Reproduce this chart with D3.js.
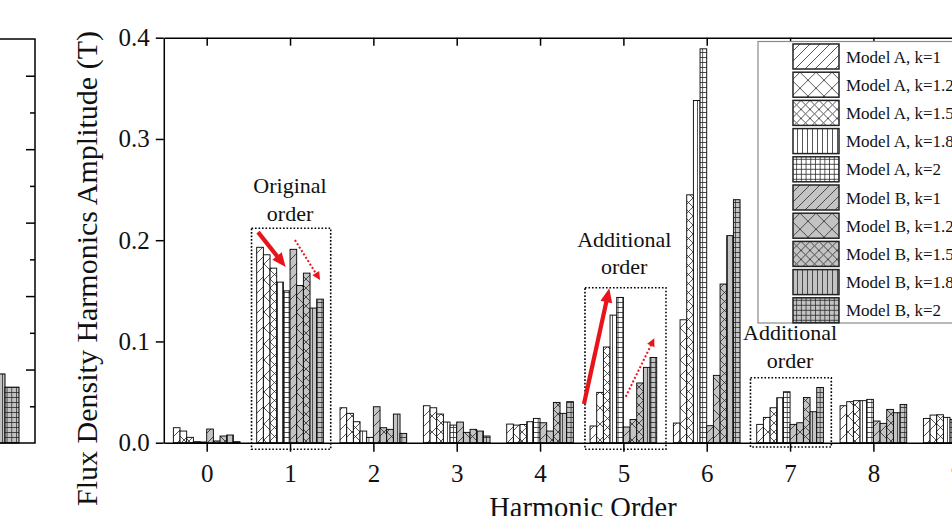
<!DOCTYPE html>
<html><head><meta charset="utf-8">
<script src="https://cdn.jsdelivr.net/npm/d3@7"></script>
<style>
html,body{margin:0;padding:0;background:#fff;overflow:hidden}
svg{display:block}
</style></head><body>
<svg id="chart" width="952" height="516"></svg>
<script>
// ---------- DATA ----------
const harmonics = [0, 1, 2, 3, 4, 5, 6, 7, 8, 9];
const xTickLabels = ["0", "1", "2", "3", "4", "5", "6", "7", "8", "9"];
const yTicks = [0.0, 0.1, 0.2, 0.3, 0.4];
const yTickLabels = ["0.0", "0.1", "0.2", "0.3", "0.4"];

const seriesNames = ["Model A, k=1", "Model A, k=1.2", "Model A, k=1.5", "Model A, k=1.8", "Model A, k=2",
                     "Model B, k=1", "Model B, k=1.2", "Model B, k=1.5", "Model B, k=1.8", "Model B, k=2"];

const modelA_k1   = [0.0148, 0.193,  0.0345, 0.0365, 0.0184, 0.0165, 0.0194, 0.0181, 0.0365, 0.0240];
const modelA_k1_2 = [0.0115, 0.1856, 0.0290, 0.0345, 0.0174, 0.0497, 0.1214, 0.0250, 0.0405, 0.0273];
const modelA_k1_5 = [0.0053, 0.1724, 0.0207, 0.0283, 0.0180, 0.0945, 0.2448, 0.0345, 0.0415, 0.0276];
const modelA_k1_8 = [0.0010, 0.1586, 0.0115, 0.0204, 0.0207, 0.1260, 0.3380, 0.0444, 0.0415, 0.0250];
const modelA_k2   = [0.0007, 0.1500, 0.0053, 0.0174, 0.0240, 0.1435, 0.3890, 0.0503, 0.0428, 0.0230];
const modelB_k1   = [0.0135, 0.1910, 0.0355, 0.0204, 0.0197, 0.0155, 0.0168, 0.0181, 0.0214, 0.0200];
const modelB_k1_2 = [0.0017, 0.1553, 0.0148, 0.0102, 0.0115, 0.0229, 0.0665, 0.0197, 0.0191, 0.0200];
const modelB_k1_5 = [0.0066, 0.1675, 0.0132, 0.0132, 0.0398, 0.0590, 0.1567, 0.0447, 0.0329, 0.0300];
const modelB_k1_8 = [0.0076, 0.1330, 0.0283, 0.0115, 0.0290, 0.0744, 0.2045, 0.0306, 0.0296, 0.0300];
const modelB_k2   = [0.0010, 0.1418, 0.0092, 0.0066, 0.0405, 0.0842, 0.2400, 0.0546, 0.0378, 0.0350];

// partial left panel (only its last two bars are visible)
const leftPanelNames = ["Model B, k=1.8", "Model B, k=2"];
const leftPanelValues = [0.094, 0.076];
const leftPanelTicks = [0.05, 0.1, 0.15, 0.2, 0.25, 0.3, 0.35, 0.4, 0.45, 0.5];

// annotations (data coordinates: harmonic order, amplitude)
const annotationLabels = [["Original", "order"], ["Additional", "order"], ["Additional", "order"]];
const annotationLabelAt = [[1.0, 0.2466, 0.219], [5.01, 0.1936, 0.1663], [7.0, 0.1012, 0.0736]];
const annotationBoxes = [[0.538, 1.488, -0.0065, 0.2118], [4.539, 5.511, -0.0065, 0.1531], [6.525, 7.495, -0.0042, 0.0642]];
const solidArrows = [[0.616, 0.208, 0.948, 0.1735], [4.527, 0.0382, 4.831, 0.1525]];
const dottedArrows = [[1.059, 0.2002, 1.36, 0.1607], [5.028, 0.0454, 5.371, 0.1031]];

// ---------- SETUP ----------
const series = [modelA_k1, modelA_k1_2, modelA_k1_5, modelA_k1_8, modelA_k2,
                modelB_k1, modelB_k1_2, modelB_k1_5, modelB_k1_8, modelB_k2];
const patternKinds = ["diag", "xs", "xd", "vert", "grid", "diag", "xs", "xd", "vert", "grid"];
const fills = ["#ffffff", "#ffffff", "#ffffff", "#ffffff", "#ffffff", "#c3c3c3", "#c3c3c3", "#c3c3c3", "#c3c3c3", "#c3c3c3"];

const FONT = "'Times New Roman', 'Liberation Serif', serif";
const svg = d3.select("#chart").style("font-family", FONT);

const ppu = 83.3375;
const x = d3.scaleLinear().domain([-0.515, 9.8]).range([206.7 - 0.515 * ppu, 206.7 + 9.8 * ppu]);
const y = d3.scaleLinear().domain([0, 0.4]).range([442.7, 37.7]);

// patterns
const defs = svg.append("defs");
const patternShapes = {
  diag: {w: 10, h: 10, d: "M-1,11 L11,-1 M-1,1 L1,-1 M9,11 L11,9"},
  xs:   {w: 16, h: 16, d: "M0,0 L16,16 M16,0 L0,16"},
  xd:   {w: 9,  h: 9,  d: "M0,0 L9,9 M9,0 L0,9"},
  vert: {w: 5,  h: 10, d: "M2.5,0 L2.5,10"},
  grid: {w: 4.7, h: 5, d: "M2.35,0 V5 M0,2.5 H4.7"}
};
series.forEach((s, i) => {
  const ps = patternShapes[patternKinds[i]];
  const p = defs.append("pattern").attr("id", "pat" + i)
    .attr("patternUnits", "userSpaceOnUse").attr("width", ps.w).attr("height", ps.h);
  p.append("rect").attr("width", ps.w).attr("height", ps.h).attr("fill", fills[i]);
  p.append("path").attr("d", ps.d).attr("stroke", "#2a2a2a").attr("stroke-width", 0.8).attr("fill", "none");
});

// ---------- LEFT PARTIAL PANEL ----------
const ly = d3.scaleLinear().domain([0, 0.55]).range([443, 39]);
const lx = d3.scaleLinear().domain([0, 1]).range([-9, 5]);
const lbw = lx(1) - lx(0);
svg.append("g").selectAll("rect").data(leftPanelValues).join("rect")
  .attr("x", (d, i) => lx(i)).attr("y", d => ly(d))
  .attr("width", lbw).attr("height", d => ly(0) - ly(d))
  .attr("fill", (d, i) => "url(#pat" + (8 + i) + ")")
  .attr("stroke", "#000").attr("stroke-width", 1);
const leftFrame = svg.append("g").attr("fill", "none").attr("stroke", "#000").attr("stroke-width", 1.5);
leftFrame.append("path").attr("d", `M0,${ly(0.55)} H35 V${ly(0)} H0`);
svg.append("g").attr("transform", "translate(35,0)")
  .call(d3.axisLeft(ly).tickValues(leftPanelTicks).tickFormat("")
        .tickSize(0).tickSizeOuter(0))
  .call(g => g.select(".domain").remove())
  .call(g => g.selectAll(".tick line")
        .attr("x2", d => (Math.round(d * 100) % 10 === 0) ? -9 : -5)
        .attr("stroke-width", 1.5));

// ---------- BARS ----------
const bw = x(0.08) - x(0);
const barsG = svg.append("g");
series.forEach((s, i) => {
  barsG.append("g").selectAll("rect").data(s).join("rect")
    .attr("x", (d, j) => x(harmonics[j] - 0.4 + i * 0.08))
    .attr("y", d => y(d))
    .attr("width", bw)
    .attr("height", d => y(0) - y(d))
    .attr("fill", "url(#pat" + i + ")")
    .attr("stroke", "#000").attr("stroke-width", 0.9);
});

// ---------- AXES ----------
const bottomAxis = svg.append("g").attr("transform", `translate(0,${y(0)})`)
  .call(d3.axisBottom(x).tickValues(harmonics).tickFormat((d, i) => xTickLabels[i])
        .tickSize(9).tickSizeOuter(0).tickPadding(12.5));
const topAxis = svg.append("g").attr("transform", `translate(0,${y(0.4)})`)
  .call(d3.axisTop(x).tickValues(harmonics).tickFormat("").tickSize(-8).tickSizeOuter(0));
const leftAxis = svg.append("g").attr("transform", `translate(${x(-0.515)},0)`)
  .call(d3.axisLeft(y).tickValues(yTicks).tickFormat((d, i) => yTickLabels[i])
        .tickSize(8).tickSizeOuter(0).tickPadding(6));
[bottomAxis, topAxis, leftAxis].forEach(g => {
  g.selectAll(".domain").attr("stroke", "#000").attr("stroke-width", 1.5);
  g.selectAll(".tick line").attr("stroke", "#000").attr("stroke-width", 1.5);
  g.selectAll("text").attr("font-family", FONT).attr("font-size", 25).attr("fill", "#111");
});

// axis titles
svg.append("text").attr("transform", "translate(97,268.5) rotate(-90)")
  .attr("text-anchor", "middle").attr("font-size", 30).attr("fill", "#111")
  .text("Flux Density Harmonics Amplitude (T)");
svg.append("text").attr("x", 583).attr("y", 517)
  .attr("text-anchor", "middle").attr("font-size", 28.5).attr("fill", "#111")
  .text("Harmonic Order");

// ---------- ANNOTATIONS ----------
annotationBoxes.forEach(b => {
  svg.append("rect")
    .attr("x", x(b[0])).attr("y", y(b[3]))
    .attr("width", x(b[1]) - x(b[0])).attr("height", y(b[2]) - y(b[3]))
    .attr("fill", "none").attr("stroke", "#000").attr("stroke-width", 1.6)
    .attr("stroke-dasharray", "1.6,1.9");
});
annotationLabels.forEach((lines, k) => {
  const at = annotationLabelAt[k];
  lines.forEach((t, li) => {
    svg.append("text").attr("x", x(at[0])).attr("y", y(at[1 + li]))
      .attr("text-anchor", "middle").attr("font-size", 22).attr("fill", "#111").text(t);
  });
});
function arrow(a, width, headLen, headW, dash) {
  const x1 = x(a[0]), y1 = y(a[1]), x2 = x(a[2]), y2 = y(a[3]);
  const dx = x2 - x1, dy = y2 - y1, L = Math.hypot(dx, dy);
  const ux = dx / L, uy = dy / L;
  const bx = x2 - ux * headLen, by = y2 - uy * headLen;
  svg.append("line").attr("x1", x1).attr("y1", y1)
    .attr("x2", bx + ux * 1).attr("y2", by + uy * 1)
    .attr("stroke", "#e8141c").attr("stroke-width", width)
    .attr("stroke-dasharray", dash || null);
  svg.append("path")
    .attr("d", `M${x2},${y2} L${bx - uy * headW / 2},${by + ux * headW / 2} L${bx + uy * headW / 2},${by - ux * headW / 2} Z`)
    .attr("fill", "#e8141c");
}
solidArrows.forEach(a => arrow(a, 4.2, 14, 12));
dottedArrows.forEach(a => arrow(a, 2, 8, 8, "2,2"));

// ---------- LEGEND ----------
const legend = svg.append("g");
legend.append("rect").attr("x", 758).attr("y", 41.5).attr("width", 260).attr("height", 281.5)
  .attr("fill", "#fff").attr("stroke", "#8a8a8a").attr("stroke-width", 1.2);
const rows = legend.selectAll("g.row").data(seriesNames).join("g").attr("class", "row")
  .attr("transform", (d, i) => `translate(0,${44 + i * 28.2})`);
rows.append("rect").attr("x", 793).attr("y", 0).attr("width", 46).attr("height", 25)
  .attr("fill", (d, i) => "url(#pat" + i + ")").attr("stroke", "#222").attr("stroke-width", 1.5);
rows.append("text").attr("x", 846).attr("y", 18.5).attr("font-size", 17).attr("fill", "#111")
  .text(d => d);
</script>
</body></html>
